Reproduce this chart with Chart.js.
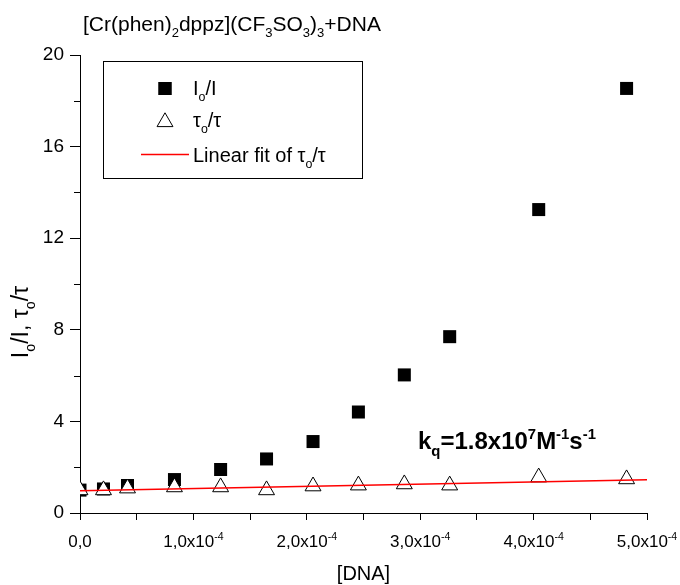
<!DOCTYPE html>
<html>
<head>
<meta charset="utf-8">
<script src="https://cdn.jsdelivr.net/npm/chart.js@4.4.1/dist/chart.umd.min.js"></script>
<style>
  html, body { margin: 0; padding: 0; background: #fff; }
  #wrap { width: 680px; height: 585px; position: relative; }
</style>
</head>
<body>
<div id="wrap"><canvas id="c" width="680" height="585"></canvas></div>
<script>
// DNA concentration (M)
const dnaConc = [0, 2.07e-5, 4.19e-5, 8.33e-5, 1.24e-4, 1.645e-4, 2.055e-4, 2.455e-4, 2.86e-4, 3.26e-4, 4.045e-4, 4.82e-4];
// Emission intensity ratio I0/I
const intensityRatio = [1.0, 1.05, 1.2, 1.46, 1.9, 2.36, 3.12, 4.41, 6.03, 7.7, 13.25, 18.54];
// Lifetime ratio tau0/tau
const lifetimeRatio = [1.0, 1.0, 1.08, 1.13, 1.13, 1.0, 1.17, 1.21, 1.26, 1.21, 1.56, 1.48];
// Linear fit of tau0/tau
const fitIntercept = 0.97;
const fitSlope = 960;
const fitRange = [0, 5e-4];
// Axis ticks
const xMajorTicks = [0, 1e-4, 2e-4, 3e-4, 4e-4, 5e-4];
const xTickMantissa = ['0,0', '1,0', '2,0', '3,0', '4,0', '5,0'];
const yMajorStep = 4;
const yMinorTicks = [2, 6, 10, 14, 18];

const FONT = '"Liberation Sans", Arial, Helvetica, sans-serif';

// draw a run of text segments, each optionally sub- or superscripted
function richWidth(ctx, segs, size, weight) {
  let w = 0;
  for (const s of segs) {
    const fs = s.m ? size * 0.62 : size;
    ctx.font = `${weight || ''} ${fs}px ${FONT}`;
    w += ctx.measureText(s.t).width;
  }
  return w;
}
function drawRich(ctx, segs, x, y, size, weight, align) {
  const total = richWidth(ctx, segs, size, weight);
  let cx = x;
  if (align === 'center') cx = x - total / 2;
  else if (align === 'right') cx = x - total;
  ctx.textBaseline = 'alphabetic';
  ctx.textAlign = 'left';
  for (const s of segs) {
    const fs = s.m ? size * 0.62 : size;
    ctx.font = `${weight || ''} ${fs}px ${FONT}`;
    let dy = 0;
    if (s.m === 'sub') dy = size * 0.3;
    if (s.m === 'sup') dy = -size * 0.42;
    ctx.fillText(s.t, cx, y + dy);
    cx += ctx.measureText(s.t).width;
  }
  return total;
}

// clip every dataset to the plotting area
const areaClip = {
  id: 'areaClip',
  beforeDatasetsDraw(chart) {
    const a = chart.chartArea;
    chart.ctx.save();
    chart.ctx.beginPath();
    chart.ctx.rect(a.left, a.top, a.right - a.left, a.bottom - a.top);
    chart.ctx.clip();
  },
  afterDatasetsDraw(chart) {
    chart.ctx.restore();
  }
};

const decorations = {
  id: 'decorations',
  afterDraw(chart) {
    const ctx = chart.ctx;
    const xs = chart.scales.x;
    const ys = chart.scales.y;
    ctx.save();
    ctx.fillStyle = '#000';

    // shorter minor ticks on the y axis
    ctx.strokeStyle = '#000';
    ctx.lineWidth = 1;
    ctx.beginPath();
    yMinorTicks.forEach(v => {
      const py = Math.round(ys.getPixelForValue(v)) + 0.5;
      ctx.moveTo(ys.right - 6, py);
      ctx.lineTo(ys.right, py);
    });
    ctx.stroke();

    // title
    drawRich(ctx, [
      { t: '[Cr(phen)' }, { t: '2', m: 'sub' }, { t: 'dppz](CF' }, { t: '3', m: 'sub' },
      { t: 'SO' }, { t: '3', m: 'sub' }, { t: ')' }, { t: '3', m: 'sub' }, { t: '+DNA' }
    ], 83, 31, 21, '', 'left');

    // x tick labels with exponent
    xMajorTicks.forEach((v, i) => {
      const px = xs.getPixelForValue(v);
      const segs = v === 0 ? [{ t: xTickMantissa[i] }]
        : [{ t: xTickMantissa[i] + 'x10' }, { t: '-4', m: 'sup' }];
      drawRich(ctx, segs, px, 547, 17, '', 'center');
    });

    // x axis title
    ctx.font = `20px ${FONT}`;
    ctx.textAlign = 'center';
    ctx.textBaseline = 'alphabetic';
    ctx.fillText('[DNA]', (xs.left + xs.right) / 2, 580);

    // y axis title (rotated)
    ctx.save();
    ctx.translate(28, 322);
    ctx.rotate(-Math.PI / 2);
    drawRich(ctx, [
      { t: 'I' }, { t: 'o', m: 'sub' }, { t: '/I, \u03C4' }, { t: 'o', m: 'sub' }, { t: '/\u03C4' }
    ], 0, 0, 23, '', 'center');
    ctx.restore();

    // legend box
    const lx = 103, ly = 61, lw = 259, lh = 117;
    ctx.lineWidth = 1;
    ctx.strokeStyle = '#000';
    ctx.strokeRect(lx + 0.5, ly + 0.5, lw, lh);

    const dsSq = chart.data.datasets[2];
    const dsTr = chart.data.datasets[1];
    const dsFit = chart.data.datasets[0];
    // squares
    Chart.helpers.drawPoint(ctx, {
      pointStyle: dsSq.pointStyle, radius: dsSq.pointRadius, borderWidth: 0, rotation: 0
    }, 165, 88.5);
    ctx.fillStyle = dsSq.backgroundColor;
    ctx.fill();
    ctx.fillStyle = '#000';
    drawRich(ctx, [{ t: 'I' }, { t: 'o', m: 'sub' }, { t: '/I' }], 193, 95, 20, '', 'left');
    // triangles
    ctx.fillStyle = dsTr.backgroundColor;
    ctx.strokeStyle = dsTr.borderColor;
    ctx.lineWidth = dsTr.borderWidth;
    Chart.helpers.drawPoint(ctx, {
      pointStyle: dsTr.pointStyle, radius: dsTr.pointRadius, borderWidth: dsTr.borderWidth, rotation: 0
    }, 165, 122);
    ctx.fillStyle = '#000';
    drawRich(ctx, [{ t: '\u03C4' }, { t: 'o', m: 'sub' }, { t: '/\u03C4' }], 193, 127, 20, '', 'left');
    // fit line
    ctx.strokeStyle = dsFit.borderColor;
    ctx.lineWidth = dsFit.borderWidth;
    ctx.beginPath();
    ctx.moveTo(141, 154.5);
    ctx.lineTo(189, 154.5);
    ctx.stroke();
    drawRich(ctx, [{ t: 'Linear fit of \u03C4' }, { t: 'o', m: 'sub' }, { t: '/\u03C4' }], 193, 162, 20, '', 'left');

    // quenching constant annotation
    ctx.fillStyle = '#000';
    drawRich(ctx, [
      { t: 'k' }, { t: 'q', m: 'sub' }, { t: '=1.8x10' }, { t: '7', m: 'sup' },
      { t: 'M' }, { t: '-1', m: 'sup' }, { t: 's' }, { t: '-1', m: 'sup' }
    ], 418, 449, 24, 'bold', 'left');

    ctx.restore();
  }
};

const fitPoints = fitRange.map(x => ({ x, y: fitIntercept + fitSlope * x }));

new Chart(document.getElementById('c'), {
  type: 'scatter',
  data: {
    datasets: [
      {
        label: 'Linear fit of \u03C4o/\u03C4',
        type: 'line',
        data: fitPoints,
        borderColor: '#ff0000',
        borderWidth: 1.5,
        pointRadius: 0,
        fill: false,
        tension: 0
      },
      {
        label: '\u03C4o/\u03C4',
        data: dnaConc.map((x, i) => ({ x, y: lifetimeRatio[i] })),
        pointStyle: 'triangle',
        pointRadius: 9.2,
        backgroundColor: '#ffffff',
        borderColor: '#000000',
        borderWidth: 1
      },
      {
        label: 'Io/I',
        data: dnaConc.map((x, i) => ({ x, y: intensityRatio[i] })),
        pointStyle: 'rect',
        pointRadius: 9.2,
        backgroundColor: '#000000',
        borderColor: '#000000',
        borderWidth: 0
      }
    ]
  },
  options: {
    responsive: false,
    animation: false,
    events: [],
    layout: { padding: { top: 55, right: 33, left: 0, bottom: 0 } },
    plugins: {
      legend: { display: false },
      tooltip: { enabled: false },
      title: { display: false }
    },
    scales: {
      x: {
        type: 'linear',
        min: 0,
        max: 5e-4,
        z: 1,
        ticks: { stepSize: 5e-5, callback: () => '', font: { size: 1 }, padding: 0 },
        grid: { drawOnChartArea: false, drawTicks: true, tickLength: 7, color: '#000', lineWidth: 1 },
        border: { display: true, color: '#000', width: 1 },
        afterFit: s => { s.height = 72; }
      },
      y: {
        type: 'linear',
        min: 0,
        max: 20,
        z: 1,
        ticks: {
          stepSize: yMajorStep,
          color: '#000',
          font: { family: FONT, size: 19 },
          padding: 6
        },
        grid: { drawOnChartArea: false, drawTicks: true, tickLength: 10, color: '#000', lineWidth: 1 },
        border: { display: true, color: '#000', width: 1 },
        afterFit: s => { s.width = 80; }
      }
    }
  },
  plugins: [areaClip, decorations]
});
</script>
</body>
</html>
